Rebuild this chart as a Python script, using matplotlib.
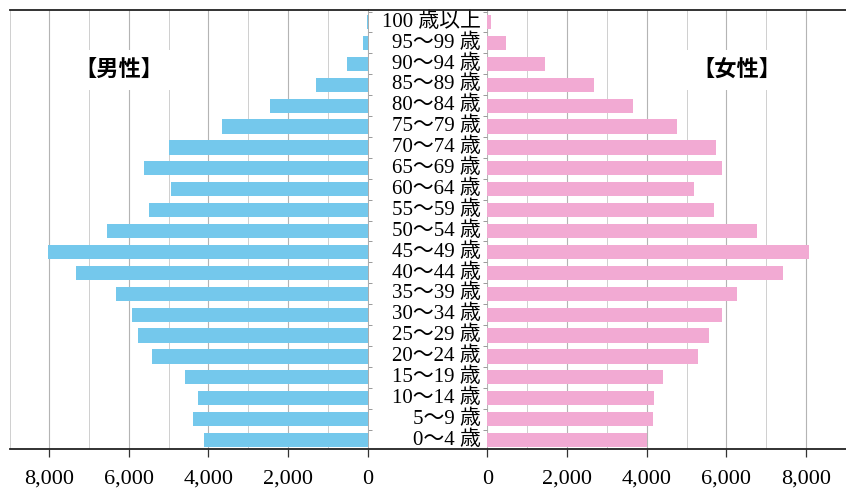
import matplotlib
matplotlib.use('Agg')
import matplotlib.pyplot as plt
import numpy as np

# age groups, bottom to top
ages = ['0～4 歳', '5～9 歳', '10～14 歳', '15～19 歳', '20～24 歳', '25～29 歳',
        '30～34 歳', '35～39 歳', '40～44 歳', '45～49 歳', '50～54 歳', '55～59 歳',
        '60～64 歳', '65～69 歳', '70～74 歳', '75～79 歳', '80～84 歳', '85～89 歳',
        '90～94 歳', '95～99 歳', '100 歳以上']

male = [4120, 4390, 4270, 4580, 5410, 5760, 5930, 6320, 7330, 8030, 6550, 5490,
        4940, 5610, 4990, 3660, 2440, 1300, 510, 110, 20]
female = [4020, 4160, 4180, 4420, 5300, 5570, 5890, 6260, 7430, 8070, 6780, 5700,
          5190, 5900, 5740, 4770, 3660, 2670, 1460, 480, 90]

xticks = [0, 2000, 4000, 6000, 8000]
xlim_max = 9000

male_color = '#74c8ec'
female_color = '#f2aad3'
serif = ['Liberation Serif', 'Noto Sans CJK JP']

fig = plt.figure(figsize=(8.46, 4.91), dpi=100)

W, H = 846, 491
top_px, bot_px = 9.5, 449.0
l0, l9 = 367.5, 9.6      # left panel: 0 and 9000 pixel positions
r0, r9 = 487.3, 845.9    # right panel
ax_h = (bot_px - top_px) / H
ax_b = 1 - bot_px / H

ax_l = fig.add_axes([l9 / W, ax_b, (l0 - l9) / W, ax_h])
ax_r = fig.add_axes([r0 / W, ax_b, (r9 - r0) / W, ax_h])
ax_bg = fig.add_axes([l9 / W, ax_b, (r9 - l9) / W, ax_h], zorder=3)
ax_bg.set_facecolor('none')
ax_bg.set_xticks([])
ax_bg.set_yticks([])
for s in ['left', 'right']:
    ax_bg.spines[s].set_visible(False)
for s in ['top', 'bottom']:
    ax_bg.spines[s].set_linewidth(1.3)
    ax_bg.spines[s].set_color('#222222')

y = np.arange(len(ages))
bar_h = 0.68

ax_l.barh(y, male, height=bar_h, color=male_color, zorder=2)
ax_r.barh(y, female, height=bar_h, color=female_color, zorder=2)

bounds = np.arange(len(ages)) + 0.5
for ax in (ax_l, ax_r):
    ax.set_ylim(-0.43, 20.6)
    ax.set_facecolor('none')
    ax.set_xticks(xticks)
    ax.set_xticklabels([f'{v:,}' for v in xticks], fontfamily=serif, fontsize=16)
    ax.set_xticks(np.arange(1000, xlim_max + 1, 1000), minor=True)
    ax.tick_params(axis='x', which='major', length=6, width=0.9, direction='out',
                   pad=9, color='#333333')
    ax.tick_params(axis='x', which='minor', length=0)
    ax.grid(axis='x', which='major', color='#b4b4b4', linewidth=0.8, zorder=0)
    ax.grid(axis='x', which='minor', color='#cfcfcf', linewidth=0.7, zorder=0)
    ax.set_axisbelow(True)
    ax.set_yticks(bounds)
    ax.set_yticklabels([])
    ax.tick_params(axis='y', length=3, width=0.7, color='#999999', direction='out')
    for s in ['top', 'bottom', 'left', 'right']:
        ax.spines[s].set_visible(False)

ax_l.set_xlim(xlim_max, 0)
ax_r.set_xlim(0, xlim_max)
ax_l.yaxis.tick_right()
ax_l.spines['right'].set_visible(True)
ax_l.spines['right'].set_color('#aaaaaa')
ax_l.spines['right'].set_linewidth(0.7)
ax_r.yaxis.tick_left()

# age labels in the middle gap
for i, lab in enumerate(ages):
    ax_r.text(-160, y[i], lab, ha='right', va='center', fontsize=15,
              family=serif, clip_on=False)

box = dict(facecolor='white', edgecolor='none', pad=6)
ax_l.text(0.3057, 0.862, '【男性】', transform=ax_l.transAxes, ha='center', va='center',
          fontsize=16, fontweight='bold', family=['Noto Sans CJK JP'], bbox=box, zorder=3)
ax_r.text(0.696, 0.862, '【女性】', transform=ax_r.transAxes, ha='center', va='center',
          fontsize=16, fontweight='bold', family=['Noto Sans CJK JP'], bbox=box, zorder=3)

fig.savefig('out.png', dpi=100, facecolor='white')
